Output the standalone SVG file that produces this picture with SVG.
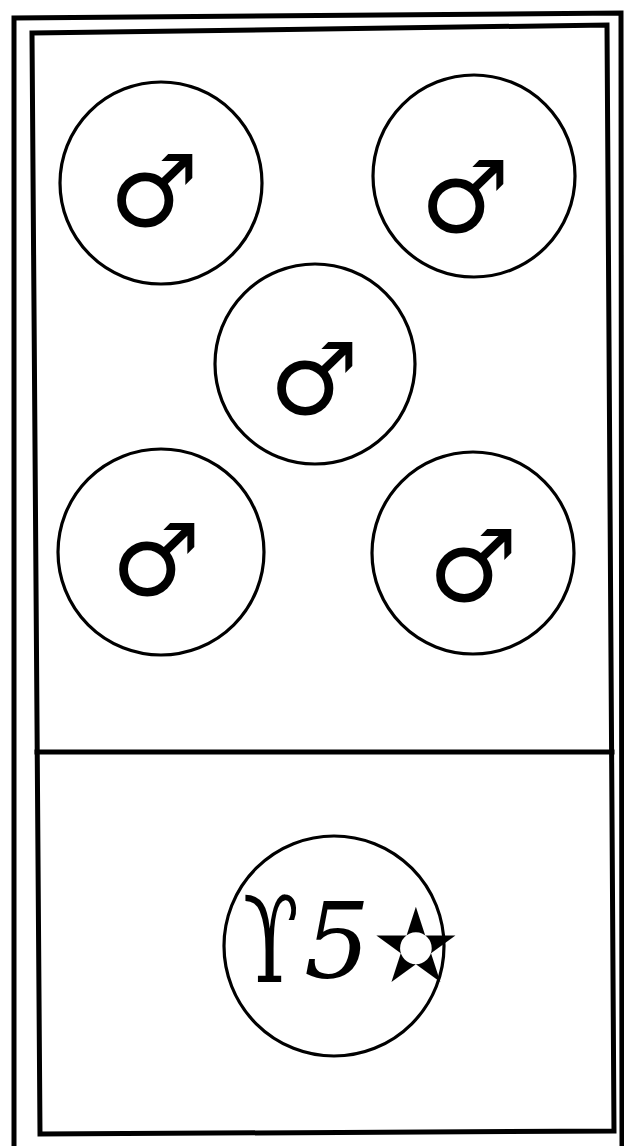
<svg xmlns="http://www.w3.org/2000/svg" width="624" height="1146" viewBox="0 0 624 1146">
<style>
.frame{fill:none;stroke:#000;stroke-width:5;stroke-linecap:square}
.ring{fill:none;stroke:#000;stroke-width:3.2}
.mars{font-family:"DejaVu Sans",sans-serif;font-size:100px;fill:#000;text-anchor:middle}
.sig{font-family:"DejaVu Serif","Liberation Serif",serif;fill:#000}
</style>
<rect width="624" height="1146" fill="#fff"/>
<g id="frame">
<polyline class="frame" points="14,1146 14,18 621,13 622,1146"/>
<polygon class="frame" points="32,33 607,25 614,1131 40,1134"/>
<line class="frame" x1="37" y1="752" x2="612" y2="752"/>
</g>
<g id="n1"><circle class="ring" cx="161" cy="183" r="101"/><text class="mars" x="154" y="226">♂</text></g>
<g id="n2"><circle class="ring" cx="474" cy="176" r="101"/><text class="mars" x="465" y="232">♂</text></g>
<g id="n3"><circle class="ring" cx="315" cy="364" r="100"/><text class="mars" x="314" y="414">♂</text></g>
<g id="n4"><circle class="ring" cx="161" cy="552" r="103"/><text class="mars" x="156" y="595">♂</text></g>
<g id="n5"><circle class="ring" cx="473" cy="553" r="101"/><text class="mars" x="473" y="601">♂</text></g>
<g id="n6"><circle class="ring" cx="334" cy="946" r="110"/>
<text class="sig" font-size="120" transform="translate(243,982) scale(0.68,1)">ϒ</text>
<text class="sig" x="304" y="978" font-size="104" font-style="italic">5</text>
<text class="sig" x="374" y="981" font-size="100" font-family="DejaVu Sans,sans-serif">✫</text></g>
</svg>
